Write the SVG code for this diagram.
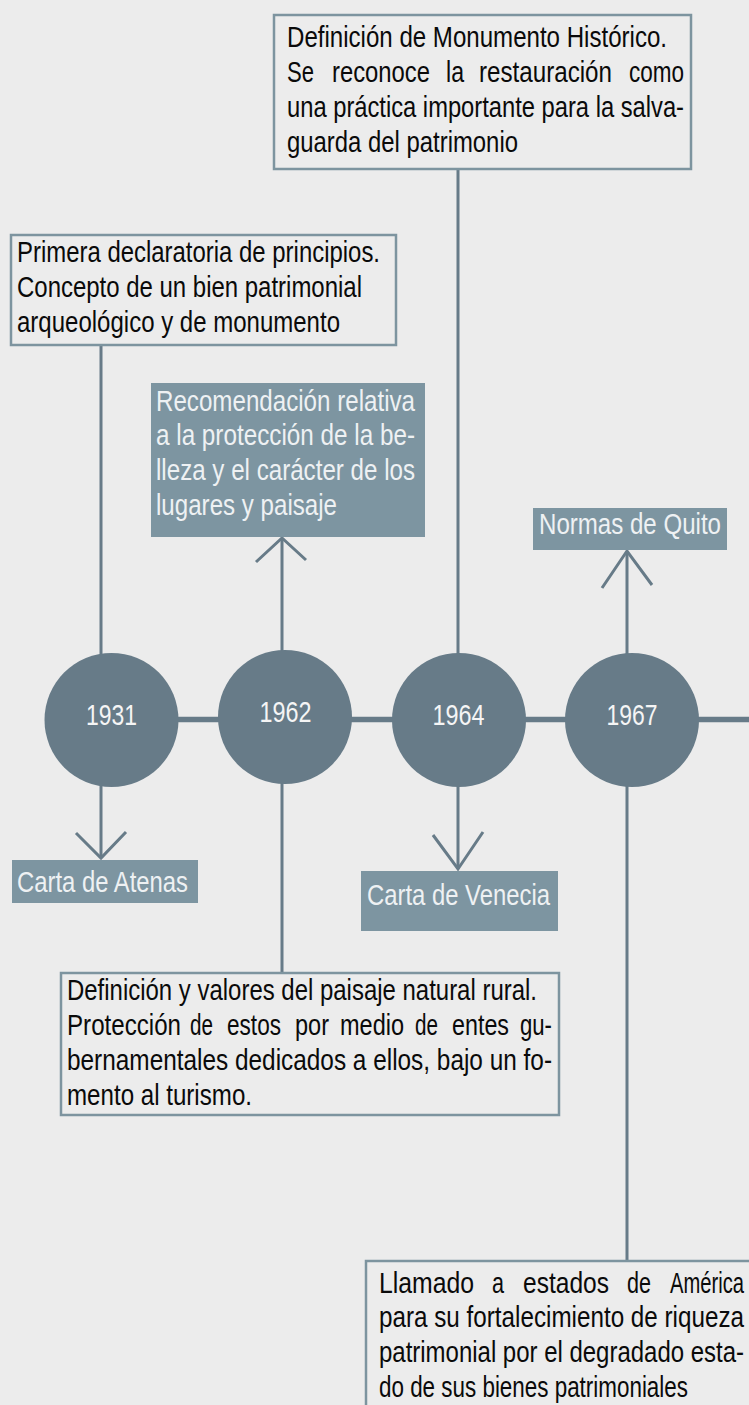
<svg xmlns="http://www.w3.org/2000/svg" width="749" height="1405" viewBox="0 0 749 1405">
<style>
.bg{fill:#ececec}
.ln{stroke:#677b88;stroke-width:3;fill:none}
.tl{stroke:#677b88;stroke-width:5.5;fill:none}
.ar{stroke:#677b88;stroke-width:3;fill:none;stroke-linejoin:miter}
.yr{fill:#677b88}
.lab{fill:#7d95a1}
.box{fill:#ececec;stroke:#7d949f;stroke-width:2.5}
text{font-family:"Liberation Sans Narrow","Arial Narrow","Liberation Sans",Arial,sans-serif;font-size:29.5px}
.dk{fill:#0a0a0a}
.lt{fill:#eef1f3}
.yt{fill:#f5f5f5;text-anchor:middle}
</style>
<rect class="bg" x="0" y="0" width="749" height="1405"/>
<g id="connectors">
<line class="tl" x1="111" y1="719.5" x2="749" y2="719.5"/>
<line class="ln" x1="101" y1="345" x2="101" y2="858"/>
<line class="ln" x1="282" y1="538" x2="282" y2="973"/>
<line class="ln" x1="458" y1="169" x2="458" y2="869"/>
<line class="ln" x1="627" y1="551" x2="627" y2="1261"/>
<polyline class="ar" points="76,833 101,858 126,832"/>
<polyline class="ar" points="256,562 282,538 306,560"/>
<polyline class="ar" points="433,835 458,869 483,832"/>
<polyline class="ar" points="602,588 627,551 652,585"/>
</g>
<g id="y1931"><circle class="yr" cx="111.5" cy="720" r="67"/><text class="yt" x="111.5" y="725" textLength="51" lengthAdjust="spacingAndGlyphs">1931</text></g>
<g id="y1962"><circle class="yr" cx="285" cy="717" r="67"/><text class="yt" x="285.5" y="722" textLength="52" lengthAdjust="spacingAndGlyphs">1962</text></g>
<g id="y1964"><circle class="yr" cx="459" cy="720" r="67"/><text class="yt" x="458.6" y="725" textLength="52" lengthAdjust="spacingAndGlyphs">1964</text></g>
<g id="y1967"><circle class="yr" cx="632" cy="720" r="67"/><text class="yt" x="632" y="725" textLength="51" lengthAdjust="spacingAndGlyphs">1967</text></g>
<g id="carta-atenas"><rect class="lab" x="12" y="860" width="186" height="43"/><text class="lt" x="17" y="892" textLength="171" lengthAdjust="spacingAndGlyphs">Carta de Atenas</text></g>
<g id="recomendacion"><rect class="lab" x="151" y="383" width="274" height="154"/>
<text class="lt"><tspan x="156" y="411" textLength="259" lengthAdjust="spacingAndGlyphs">Recomendación relativa</tspan><tspan x="156" y="445" textLength="259" lengthAdjust="spacingAndGlyphs">a la protección de la be-</tspan><tspan x="156" y="480" textLength="259" lengthAdjust="spacingAndGlyphs">lleza y el carácter de los</tspan><tspan x="156" y="515" textLength="181" lengthAdjust="spacingAndGlyphs">lugares y paisaje</tspan></text></g>
<g id="carta-venecia"><rect class="lab" x="361" y="871" width="197" height="60"/><text class="lt" x="367" y="905" textLength="183" lengthAdjust="spacingAndGlyphs">Carta de Venecia</text></g>
<g id="normas-quito"><rect class="lab" x="533" y="508" width="194" height="42"/><text class="lt" x="539" y="534" textLength="182" lengthAdjust="spacingAndGlyphs">Normas de Quito</text></g>
<g id="box-1931"><rect class="box" x="11" y="235" width="385" height="110"/>
<text class="dk"><tspan x="17" y="262" textLength="363" lengthAdjust="spacingAndGlyphs">Primera declaratoria de principios.</tspan><tspan x="17" y="297" textLength="345" lengthAdjust="spacingAndGlyphs">Concepto de un bien patrimonial</tspan><tspan x="17" y="332" textLength="323" lengthAdjust="spacingAndGlyphs">arqueológico y de monumento</tspan></text></g>
<g id="box-1964"><rect class="box" x="274" y="15" width="417" height="154"/>
<text class="dk"><tspan x="287" y="46.5" textLength="380" lengthAdjust="spacingAndGlyphs">Definición de Monumento Histórico.</tspan><tspan x="287" y="81.5" textLength="27" lengthAdjust="spacingAndGlyphs">Se</tspan> <tspan x="332" textLength="98" lengthAdjust="spacingAndGlyphs">reconoce</tspan> <tspan x="446" textLength="18" lengthAdjust="spacingAndGlyphs">la</tspan> <tspan x="479" textLength="133" lengthAdjust="spacingAndGlyphs">restauración</tspan> <tspan x="629" textLength="55" lengthAdjust="spacingAndGlyphs">como</tspan><tspan x="287" y="116.5" textLength="397" lengthAdjust="spacingAndGlyphs">una práctica importante para la salva-</tspan><tspan x="287" y="151.5" textLength="231" lengthAdjust="spacingAndGlyphs">guarda del patrimonio</tspan></text></g>
<g id="box-1962"><rect class="box" x="61" y="973" width="498" height="142"/>
<text class="dk"><tspan x="67" y="1000" textLength="470" lengthAdjust="spacingAndGlyphs">Definición y valores del paisaje natural rural.</tspan><tspan x="67" y="1035" textLength="114" lengthAdjust="spacingAndGlyphs">Protección</tspan> <tspan x="190" textLength="23" lengthAdjust="spacingAndGlyphs">de</tspan> <tspan x="227" textLength="54" lengthAdjust="spacingAndGlyphs">estos</tspan> <tspan x="295" textLength="34" lengthAdjust="spacingAndGlyphs">por</tspan> <tspan x="340" textLength="64" lengthAdjust="spacingAndGlyphs">medio</tspan> <tspan x="415" textLength="23" lengthAdjust="spacingAndGlyphs">de</tspan> <tspan x="452" textLength="57" lengthAdjust="spacingAndGlyphs">entes</tspan> <tspan x="520" textLength="32" lengthAdjust="spacingAndGlyphs">gu-</tspan><tspan x="67" y="1070" textLength="485" lengthAdjust="spacingAndGlyphs">bernamentales dedicados a ellos, bajo un fo-</tspan><tspan x="67" y="1105" textLength="185" lengthAdjust="spacingAndGlyphs">mento al turismo.</tspan></text></g>
<g id="box-1967"><rect class="box" x="366" y="1261" width="400" height="200"/>
<text class="dk"><tspan x="379" y="1293" textLength="95" lengthAdjust="spacingAndGlyphs">Llamado</tspan> <tspan x="492" textLength="12" lengthAdjust="spacingAndGlyphs">a</tspan> <tspan x="523" textLength="86" lengthAdjust="spacingAndGlyphs">estados</tspan> <tspan x="627" textLength="24" lengthAdjust="spacingAndGlyphs">de</tspan> <tspan x="670" textLength="74" lengthAdjust="spacingAndGlyphs">América</tspan><tspan x="379" y="1327" textLength="365" lengthAdjust="spacingAndGlyphs">para su fortalecimiento de riqueza</tspan><tspan x="379" y="1362" textLength="365" lengthAdjust="spacingAndGlyphs">patrimonial por el degradado esta-</tspan><tspan x="379" y="1397" textLength="309" lengthAdjust="spacingAndGlyphs">do de sus bienes patrimoniales</tspan></text></g>
</svg>
